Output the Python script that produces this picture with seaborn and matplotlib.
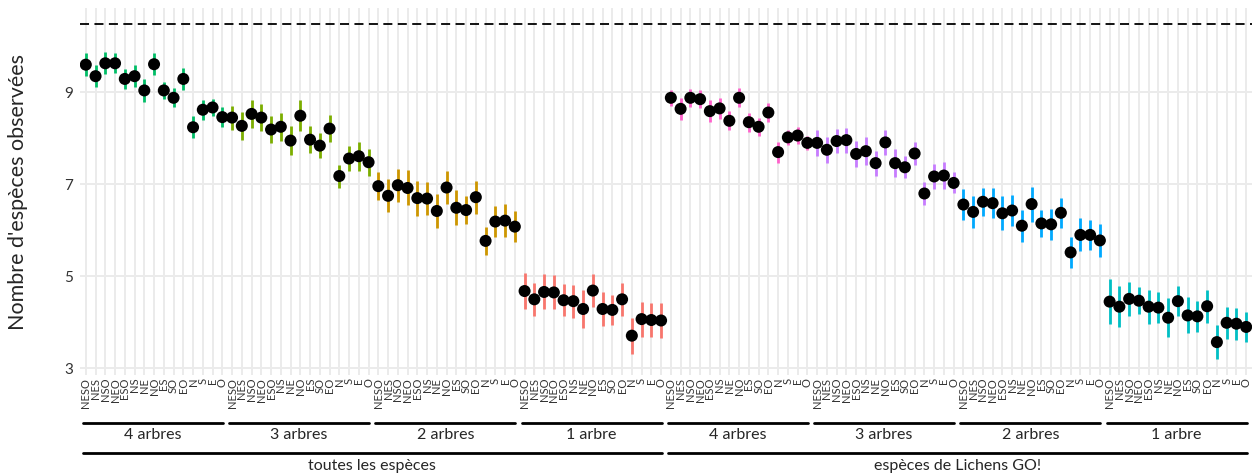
import numpy as np
import pandas as pd
import seaborn as sns
from matplotlib import pyplot as plt
from matplotlib.transforms import blended_transform_factory
from matplotlib.lines import Line2D

# 15 combinaisons d'orientation, répétées pour chaque groupe
orientations = ["NESO", "NES", "NSO", "NEO", "ESO", "NS", "NE", "NO",
                "ES", "SO", "EO", "N", "S", "E", "O"]
arbres = ["4 arbres", "3 arbres", "2 arbres", "1 arbre"]
especes = ["toutes les espèces", "espèces de Lichens GO!"]
group_colors = ["#00BE67", "#7CAE00", "#CD9600", "#F8766D",
                "#FF61CC", "#C77CFF", "#00A9FF", "#00BFC4"]

# moyennes, groupe par groupe
mean_toutes = [
    [9.60, 9.35, 9.63, 9.63, 9.29, 9.35, 9.04, 9.61, 9.04, 8.88, 9.29, 8.24, 8.62, 8.67, 8.46],
    [8.45, 8.27, 8.53, 8.45, 8.19, 8.25, 7.95, 8.49, 7.97, 7.84, 8.21, 7.18, 7.56, 7.61, 7.48],
    [6.96, 6.75, 6.98, 6.92, 6.70, 6.69, 6.42, 6.93, 6.49, 6.44, 6.72, 5.77, 6.19, 6.21, 6.08],
    [4.68, 4.50, 4.66, 4.65, 4.48, 4.46, 4.29, 4.69, 4.29, 4.27, 4.50, 3.71, 4.07, 4.05, 4.04],
]
mean_lichens = [
    [8.88, 8.64, 8.88, 8.85, 8.59, 8.65, 8.38, 8.88, 8.35, 8.25, 8.56, 7.70, 8.02, 8.06, 7.90],
    [7.90, 7.75, 7.94, 7.96, 7.66, 7.72, 7.46, 7.91, 7.46, 7.37, 7.67, 6.80, 7.17, 7.19, 7.03],
    [6.56, 6.40, 6.62, 6.59, 6.37, 6.43, 6.10, 6.57, 6.15, 6.13, 6.38, 5.52, 5.90, 5.90, 5.78],
    [4.45, 4.34, 4.51, 4.47, 4.34, 4.32, 4.10, 4.46, 4.15, 4.13, 4.35, 3.57, 3.99, 3.97, 3.90],
]
# demi-largeur des intervalles
err_toutes = [
    [0.25, 0.24, 0.24, 0.22, 0.22, 0.24, 0.25, 0.24, 0.19, 0.21, 0.24, 0.24, 0.22, 0.19, 0.21],
    [0.26, 0.30, 0.31, 0.29, 0.30, 0.30, 0.32, 0.34, 0.30, 0.27, 0.29, 0.25, 0.28, 0.32, 0.29],
    [0.31, 0.36, 0.36, 0.38, 0.38, 0.35, 0.37, 0.36, 0.38, 0.30, 0.36, 0.31, 0.34, 0.36, 0.33],
    [0.39, 0.36, 0.38, 0.37, 0.35, 0.36, 0.41, 0.36, 0.38, 0.32, 0.36, 0.39, 0.38, 0.37, 0.38],
]
err_lichens = [
    [0.17, 0.24, 0.19, 0.20, 0.24, 0.23, 0.21, 0.21, 0.21, 0.20, 0.21, 0.23, 0.17, 0.18, 0.15],
    [0.28, 0.28, 0.27, 0.27, 0.28, 0.31, 0.27, 0.28, 0.30, 0.24, 0.26, 0.25, 0.28, 0.29, 0.23],
    [0.33, 0.34, 0.31, 0.33, 0.37, 0.33, 0.35, 0.38, 0.29, 0.34, 0.32, 0.33, 0.36, 0.33, 0.35],
    [0.49, 0.44, 0.37, 0.29, 0.37, 0.34, 0.42, 0.32, 0.39, 0.34, 0.36, 0.37, 0.35, 0.35, 0.33],
]
max_especes = 10.48

rows = []
for k, (means, errs) in enumerate([(mean_toutes, err_toutes), (mean_lichens, err_lichens)]):
    for g, arbre in enumerate(arbres):
        for o, orient in enumerate(orientations):
            rows.append({
                "espece": especes[k],
                "arbre": arbre,
                "groupe": k * 4 + g,
                "orientation": orient,
                "moyenne": means[g][o],
                "err": errs[g][o],
            })
df = pd.DataFrame(rows)
df["pos"] = np.arange(len(df))

sns.set_theme(style="white")
plt.rcParams["font.family"] = ["Lato", "DejaVu Sans"]

fig = plt.figure(figsize=(12.55, 4.75), dpi=100)
ax = fig.add_axes([0.0637, 0.2105, 0.9339, 0.7725])

# grille façon theme_minimal
for p in df["pos"]:
    ax.axvline(p, color="#EBEBEB", lw=1.4, zorder=0)
for yv in [3, 5, 7, 9]:
    ax.axhline(yv, color="#EBEBEB", lw=1.4, zorder=0)

ax.axhline(max_especes, color="black", lw=1.3, ls=(0, (5, 3)), zorder=1)

ax.vlines(df["pos"], df["moyenne"] - df["err"], df["moyenne"] + df["err"],
          colors=[group_colors[g] for g in df["groupe"]], lw=2.0, zorder=2)
sns.scatterplot(data=df, x="pos", y="moyenne", color="black", s=75,
                edgecolor="none", ax=ax, zorder=3, legend=False)

ax.set_xlim(-0.6, len(df) - 0.4)
ax.set_ylim(2.855, 10.83)
ax.set_yticks([3, 5, 7, 9])
ax.set_yticklabels(["3", "5", "7", "9"], fontsize=11, color="#333333")
ax.set_xticks(df["pos"])
ax.set_xticklabels(df["orientation"], rotation=90, fontsize=8, color="#333333")
ax.tick_params(axis="x", length=0, pad=2)
ax.tick_params(axis="y", length=0, pad=5)
ax.set_xlabel("")
ax.set_ylabel("Nombre d'espèces observées", fontsize=15.5, labelpad=26)
for s in ax.spines.values():
    s.set_visible(False)

# accolades sous l'axe : nombre d'arbres puis jeu d'espèces
tr = blended_transform_factory(ax.transData, ax.transAxes)
for (grp, arbre), sub in df.groupby(["groupe", "arbre"]):
    x0, x1 = sub["pos"].min() - 0.3, sub["pos"].max() + 0.05
    ax.add_line(Line2D([x0, x1], [-0.130, -0.130], color="black", lw=2,
                       transform=tr, clip_on=False))
    ax.text((x0 + x1) / 2, -0.163, arbre, transform=tr, ha="center",
            va="center", fontsize=11.5)
for esp, sub in df.groupby("espece", sort=False):
    x0, x1 = sub["pos"].min() - 0.3, sub["pos"].max() + 0.05
    ax.add_line(Line2D([x0, x1], [-0.213, -0.213], color="black", lw=2,
                       transform=tr, clip_on=False))
    ax.text((x0 + x1) / 2, -0.248, esp, transform=tr, ha="center",
            va="center", fontsize=11.5)

fig.savefig("out.png", dpi=100, facecolor="white")
